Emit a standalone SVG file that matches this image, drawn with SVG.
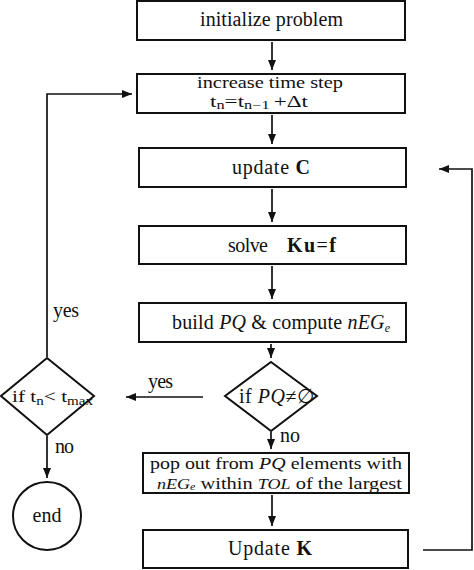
<svg xmlns="http://www.w3.org/2000/svg" width="474" height="570" viewBox="0 0 474 570">
<style>
.box{fill:#fff;stroke:#111;stroke-width:2}
.t{font-family:"Liberation Serif","Times New Roman",serif;font-size:20px;fill:#111}
.s17{font-size:17px}
.i{font-style:italic}
.b{font-weight:bold}
.c{fill:none;stroke:#111;stroke-width:1.7}
</style>
<defs>
<marker id="ah" markerUnits="userSpaceOnUse" markerWidth="11" markerHeight="9" refX="10" refY="4" orient="auto">
<path d="M0,0 L10,4 L0,8 Z" fill="#111"/>
</marker>
</defs>
<rect width="474" height="570" fill="#fff"/>
<g id="connectors">
<path class="c" d="M272,42 V70" marker-end="url(#ah)"/>
<path class="c" d="M272,115 V144" marker-end="url(#ah)"/>
<path class="c" d="M272,189 V222" marker-end="url(#ah)"/>
<path class="c" d="M272,266 V299" marker-end="url(#ah)"/>
<path class="c" d="M271,344 V358" marker-end="url(#ah)"/>
<path class="c" d="M271,432 V449" marker-end="url(#ah)"/>
<path class="c" d="M272,495 V526" marker-end="url(#ah)"/>
<path class="c" d="M203,397 H126" marker-end="url(#ah)"/>
<path class="c" d="M47,357 V94 H132" marker-end="url(#ah)"/>
<path class="c" d="M47,436 V478" marker-end="url(#ah)"/>
<path class="c" d="M423,550 H472 V169 H439" marker-end="url(#ah)"/>
<text class="t" x="148" y="388" textLength="25">yes</text>
<text class="t" x="53" y="317" textLength="26">yes</text>
<text class="t" x="280" y="442" textLength="20">no</text>
<text class="t" x="55" y="453" textLength="19">no</text>
</g>
<g id="init">
<rect class="box" x="137" y="1" width="268" height="39"/>
<text class="t" x="200" y="26" textLength="143">initialize problem</text>
</g>
<g id="timestep">
<rect class="box" x="137" y="74" width="268" height="39"/>
<text class="t s17" x="197" y="88" textLength="146" lengthAdjust="spacingAndGlyphs">increase time step</text>
<text class="t s17" x="210" y="107" textLength="98" lengthAdjust="spacingAndGlyphs">t<tspan font-size="12" dy="2">n</tspan><tspan dy="-2">=t</tspan><tspan font-size="12" dy="2">n−1</tspan><tspan dy="-2" dx="3">+Δt</tspan></text>
</g>
<g id="updateC">
<rect class="box" x="139" y="148" width="267" height="39"/>
<text class="t" x="232" y="174" textLength="78">update <tspan class="b">C</tspan></text>
</g>
<g id="solve">
<rect class="box" x="139" y="226" width="267" height="38"/>
<text class="t" x="228" y="252" textLength="40">solve</text>
<text class="t" x="287" y="252" textLength="49"><tspan class="b">Ku</tspan>=<tspan class="b">f</tspan></text>
</g>
<g id="build">
<rect class="box" x="139" y="303" width="267" height="39"/>
<text class="t" x="172" y="329" textLength="218">build <tspan class="i">PQ</tspan> &amp; compute <tspan class="i">nEG</tspan><tspan class="i" font-size="12" dy="3">e</tspan></text>
</g>
<g id="ifPQ">
<polygon class="box" points="271,362 317,396 271,431 225,396"/>
<text class="t" x="239" y="403" textLength="75">if <tspan class="i">PQ</tspan>≠∅</text>
</g>
<g id="iftn">
<polygon class="box" points="47,358 94,396 47,435 1,396"/>
<text class="t s17" x="12" y="402" textLength="81" lengthAdjust="spacingAndGlyphs">if t<tspan font-size="12" dy="3">n</tspan><tspan dy="-3">&lt; t</tspan><tspan font-size="12" dy="3">max</tspan></text>
</g>
<g id="end">
<circle class="box" cx="47" cy="516" r="34"/>
<text class="t" x="47" y="522" text-anchor="middle">end</text>
</g>
<g id="popout">
<rect class="box" x="143" y="453" width="266" height="40"/>
<text class="t s17" x="150" y="469" textLength="252" lengthAdjust="spacingAndGlyphs">pop out from <tspan class="i">PQ</tspan> elements with</text>
<text class="t s17" x="157" y="489" textLength="245" lengthAdjust="spacingAndGlyphs"><tspan class="i" font-size="15">nEG</tspan><tspan class="i" font-size="10" dy="1">e</tspan><tspan dy="-1"> within </tspan><tspan class="i" font-size="15">TOL</tspan> of the largest</text>
</g>
<g id="updateK">
<rect class="box" x="143" y="530" width="265" height="38"/>
<text class="t" x="228" y="555" textLength="84">Update <tspan class="b">K</tspan></text>
</g>
</svg>
